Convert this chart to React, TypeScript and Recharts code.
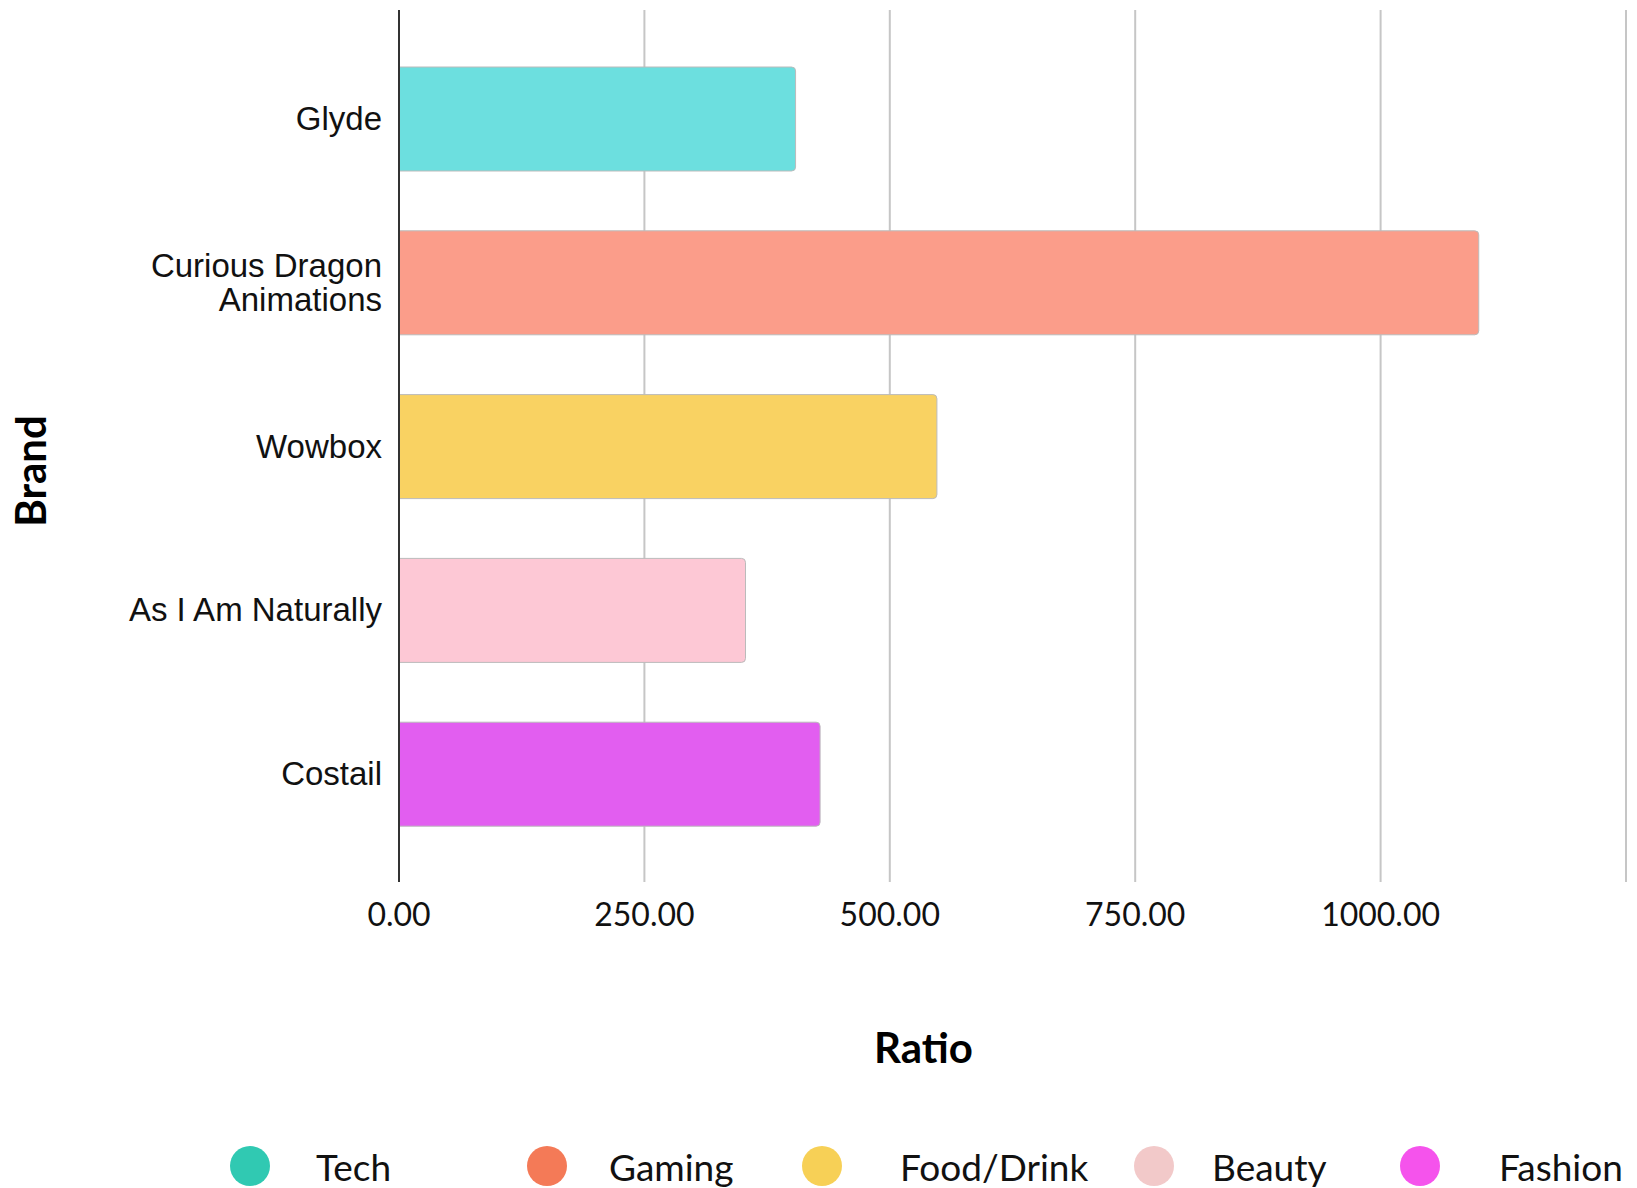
import { BarChart, Bar, XAxis, YAxis, CartesianGrid, Legend, Cell } from 'recharts';

// brands (top to bottom) and their ratio values
const brands = ['Glyde', 'Curious Dragon Animations', 'Wowbox', 'As I Am Naturally', 'Costail'];
const ratios = [404, 1100, 548, 353, 429];
const brandSector = ['Tech', 'Gaming', 'Food/Drink', 'Beauty', 'Fashion'];

// sectors shown in the legend
const sectors = ['Tech', 'Gaming', 'Food/Drink', 'Beauty', 'Fashion'];
const sectorColors = ['#30c9b2', '#f47a57', '#f7d056', '#f2c9c9', '#f553ec'];
const barColors = ['#6cdfdf', '#fb9d8a', '#f9d262', '#fdc8d5', '#e25ef0'];

const xTicks = [0, 250, 500, 750, 1000, 1250];
const xTickLabels = ['0.00', '250.00', '500.00', '750.00', '1000.00', ''];

const data = brands.map((b, i) => ({ brand: b, ratio: ratios[i], sector: brandSector[i] }));

// legend spacing
const legendItemWidths = [297, 275, 332, 266, 230];
const legendGaps = [46, 42, 58, 38, 59];

// crude word wrap by character count
const wrapWords = (s: string, max: number) => {
    const lines: string[] = [];
    let cur = '';
    s.split(' ').forEach(w => {
        const next = cur ? cur + ' ' + w : w;
        if (next.length > max && cur) {
            lines.push(cur);
            cur = w;
        } else {
            cur = next;
        }
    });
    if (cur) lines.push(cur);
    return lines;
};

const BrandTick = (props: any) => {
    const { x, y, payload } = props;
    const lines = wrapWords(String(payload.value), 17);
    const lh = 34;
    const startY = y - ((lines.length - 1) * lh) / 2 - 1;
    return (
        <text x={x} y={startY} textAnchor="end" dominantBaseline="central"
            style={{ fontFamily: '"Liberation Sans", Arial, sans-serif', fontSize: 33, fill: '#111' }}>
            {lines.map((l, i) => (
                <tspan key={i} x={x} y={startY + i * lh}>{l}</tspan>
            ))}
        </text>
    );
};

const BrandLabel = (props: any) => {
    const vb = props.viewBox;
    const x = vb.x + 30;
    const y = vb.y + vb.height / 2 + 25;
    return (
        <text x={x} y={y} transform={`rotate(-90, ${x}, ${y})`} textAnchor="middle" dominantBaseline="central"
            style={{ fontFamily: 'Lato, sans-serif', fontWeight: 700, fontSize: 42, fill: '#000' }}>
            Brand
        </text>
    );
};

const RatioLabel = (props: any) => {
    const vb = props.viewBox;
    return (
        <text x={vb.x + vb.width / 2 - 89} y={vb.y + 165} textAnchor="middle" dominantBaseline="central"
            style={{ fontFamily: 'Lato, sans-serif', fontWeight: 700, fontSize: 42, fill: '#000' }}>
            Ratio
        </text>
    );
};

const SectorLegend = () => (
    <div style={{ display: 'flex', alignItems: 'center', height: 60, paddingLeft: 230, paddingTop: 16, boxSizing: 'border-box' }}>
        {sectors.map((s, i) => (
            <div key={s} style={{ display: 'flex', alignItems: 'center', width: legendItemWidths[i] }}>
                <span style={{ width: 40, height: 40, borderRadius: '50%', background: sectorColors[i], flexShrink: 0 }} />
                <span style={{ marginLeft: legendGaps[i], fontFamily: 'Lato, sans-serif', fontSize: 37, color: '#111', whiteSpace: 'nowrap' }}>{s}</span>
            </div>
        ))}
    </div>
);

export default function App() {
    return (
        <div style={{ position: 'absolute', left: 0, top: 0, width: 1637, height: 1188, background: 'white' }}>
            <BarChart width={1637} height={1188} data={data} layout="vertical"
                margin={{ top: 10, right: 11, left: 0, bottom: 0 }}>
                <CartesianGrid horizontal={false} stroke="#c6c6c6" strokeWidth={2} />
                <XAxis type="number" dataKey="ratio" domain={[0, 1250]} ticks={xTicks}
                    tickFormatter={(v: number) => xTickLabels[xTicks.indexOf(v)]}
                    axisLine={false} tickLine={false} tickSize={6} tickMargin={15} height={246}
                    tick={{ fontFamily: 'Lato, sans-serif', fontSize: 32, fill: '#111' }}
                    interval={0}
                    label={<RatioLabel />} />
                <YAxis type="category" dataKey="brand" width={399} padding={{ top: 27, bottom: 26 }}
                    axisLine={{ stroke: '#333', strokeWidth: 2 }} tickLine={false} tickSize={0} tickMargin={17}
                    tick={<BrandTick />} interval={0}
                    label={<BrandLabel />} />
                <Legend verticalAlign="bottom" height={60} content={<SectorLegend />}
                    wrapperStyle={{ left: 0, bottom: 0, width: 1637, height: 60 }} />
                <Bar dataKey="ratio" barSize={104} radius={[0, 4, 4, 0]} stroke="#bbbbbb" strokeWidth={1} isAnimationActive={false}>
                    {data.map((d, i) => <Cell key={d.brand} fill={barColors[i]} />)}
                </Bar>
            </BarChart>
        </div>
    );
}
